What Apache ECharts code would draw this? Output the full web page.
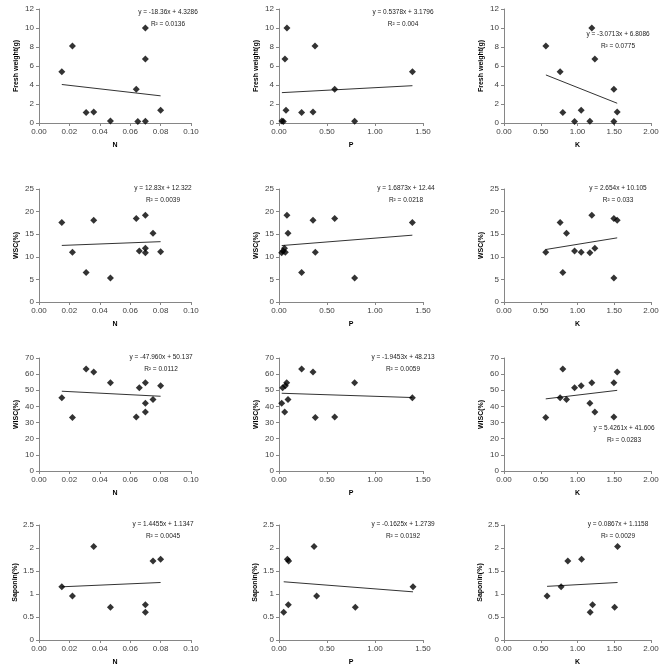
<!DOCTYPE html>
<html><head><meta charset="utf-8">
<script src="https://cdn.jsdelivr.net/npm/echarts@6/dist/echarts.min.js"></script>
<style>html,body{margin:0;padding:0;background:#fff}#c{width:668px;height:672px}</style>
</head><body><div id="c"></div>
<script>
// ---- data ----
const freshN_x = [0.015,0.022,0.031,0.036,0.047,0.064,0.065,0.070,0.070,0.070,0.080];
const freshN_y = [5.4,8.1,1.1,1.15,0.2,3.55,0.15,10.0,6.75,0.18,1.35];
const freshP_x = [0.03,0.045,0.062,0.073,0.083,0.236,0.354,0.375,0.58,0.788,1.39];
const freshP_y = [0.2,0.15,6.75,1.35,10.0,1.1,1.15,8.1,3.55,0.18,5.4];
const freshK_x = [0.57,0.764,0.80,0.96,1.05,1.168,1.195,1.236,1.495,1.495,1.54];
const freshK_y = [8.1,5.4,1.1,0.15,1.35,0.18,10.0,6.75,3.55,0.15,1.15];

const wscN_x = [0.015,0.022,0.031,0.036,0.047,0.064,0.066,0.070,0.070,0.070,0.075,0.080];
const wscN_y = [17.6,11.0,6.5,18.1,5.3,18.5,11.3,19.2,11.9,10.9,15.2,11.1];
const wscP_x = [0.028,0.042,0.057,0.066,0.083,0.094,0.236,0.354,0.378,0.58,0.788,1.389];
const wscP_y = [10.9,11.3,11.9,11.0,19.2,15.2,6.5,18.1,11.0,18.5,5.3,17.6];
const wscK_x = [0.568,0.764,0.80,0.85,0.96,1.05,1.168,1.195,1.236,1.495,1.495,1.54];
const wscK_y = [11.0,17.6,6.5,15.2,11.3,11.0,10.9,19.2,11.9,18.5,5.3,18.1];

const wiscN_x = [0.015,0.022,0.031,0.036,0.047,0.064,0.066,0.070,0.070,0.070,0.075,0.080];
const wiscN_y = [45.3,33.1,63.2,61.3,54.7,33.5,51.5,54.7,42.0,36.6,44.3,52.8];
const wiscP_x = [0.028,0.038,0.059,0.066,0.08,0.094,0.236,0.354,0.378,0.58,0.788,1.389];
const wiscP_y = [42.0,51.5,36.6,52.8,54.7,44.3,63.2,61.3,33.1,33.5,54.7,45.3];
const wiscK_x = [0.568,0.764,0.80,0.85,0.96,1.05,1.168,1.195,1.236,1.495,1.495,1.54];
const wiscK_y = [33.1,45.3,63.2,44.3,51.5,52.8,42.0,54.7,36.6,54.7,33.5,61.3];

const sapN_x = [0.015,0.022,0.036,0.047,0.070,0.070,0.075,0.080];
const sapN_y = [1.16,0.955,2.03,0.71,0.765,0.605,1.72,1.755];
const sapP_x = [0.049,0.087,0.10,0.097,0.365,0.392,0.795,1.396];
const sapP_y = [0.605,1.755,1.72,0.765,2.03,0.955,0.71,1.16];
const sapK_x = [0.586,0.777,0.868,1.055,1.173,1.205,1.505,1.545];
const sapK_y = [0.955,1.16,1.72,1.755,0.605,0.765,0.71,2.03];

// regression (slope, intercept) and labels, row-major
const slopes     = [-18.36, 0.5378, -3.0713, 12.83, 1.6873, 2.654, -47.960, -1.9453, 5.4261, 1.4455, -0.1625, 0.0867];
const intercepts = [4.3286, 3.1796, 6.8086, 12.322, 12.44, 10.105, 50.137, 48.213, 41.606, 1.1347, 1.2739, 1.1158];
const eqLabels = ['y = -18.36x + 4.3286','y = 0.5378x + 3.1796','y = -3.0713x + 6.8086',
  'y = 12.83x + 12.322','y = 1.6873x + 12.44','y = 2.654x + 10.105',
  'y = -47.960x + 50.137','y = -1.9453x + 48.213','y = 5.4261x + 41.606',
  'y = 1.4455x + 1.1347','y = -0.1625x + 1.2739','y = 0.0867x + 1.1158'];
const r2Labels = ['R² = 0.0136','R² = 0.004','R² = 0.0775',
  'R² = 0.0039','R² = 0.0218','R² = 0.033',
  'R² = 0.0112','R² = 0.0059','R² = 0.0283',
  'R² = 0.0045','R² = 0.0192','R² = 0.0029'];

const xNames = ['N','P','K'];
const yNames = ['Fresh weight(g)','WSC(%)','WISC(%)','Saponin(%)'];
const xMax = [0.10, 1.50, 2.00];
const xStep = [0.02, 0.50, 0.50];
const yMax = [12, 25, 70, 2.5];
const yStep = [2, 5, 10, 0.5];

const panels = [
  [freshN_x,freshN_y],[freshP_x,freshP_y],[freshK_x,freshK_y],
  [wscN_x,wscN_y],[wscP_x,wscP_y],[wscK_x,wscK_y],
  [wiscN_x,wiscN_y],[wiscP_x,wiscP_y],[wiscK_x,wiscK_y],
  [sapN_x,sapN_y],[sapP_x,sapP_y],[sapK_x,sapK_y]
];

// ---- layout ----
const colL = [39, 279, 504];
const colR = [191, 423, 651];
const rowT = [9, 189, 358, 525];
const rowB = [123, 302, 471, 640];
const eqPos = [[168,12],[403,12],[618,34],[163,188],[406,188],[618,188],[161,357],[403,357],[624,428],[163,524],[403,524],[618,524]];

const FONT = 'Liberation Sans, Arial, sans-serif';
const grids=[], xAxes=[], yAxes=[], series=[], graphics=[];
for (let r=0;r<4;r++){
  for (let c=0;c<3;c++){
    const i=r*3+c;
    grids.push({left:colL[c], top:rowT[r], width:colR[c]-colL[c], height:rowB[r]-rowT[r], containLabel:false});
    const axisCommon = {
      axisLine:{show:true,onZero:false,lineStyle:{color:'#868686',width:1}},
      axisTick:{show:true,inside:false,length:3,lineStyle:{color:'#868686'}},
      splitLine:{show:false},
      nameTextStyle:{fontFamily:FONT,fontSize:7,fontWeight:'bold',color:'#000'}
    };
    xAxes.push(Object.assign({}, axisCommon, {
      type:'value', gridIndex:i, min:0, max:xMax[c], interval:xStep[c],
      name:xNames[c], nameLocation:'middle', nameGap:19,
      axisLabel:{fontFamily:FONT,fontSize:8,color:'#404040',margin:5,formatter:v=>v.toFixed(2)}
    }));
    yAxes.push(Object.assign({}, axisCommon, {
      type:'value', gridIndex:i, min:0, max:yMax[r], interval:yStep[r],
      name:yNames[r], nameLocation:'middle', nameGap:19, nameRotate:90,
      axisLabel:{fontFamily:FONT,fontSize:8,color:'#404040',margin:5}
    }));
    const xs=panels[i][0], ys=panels[i][1];
    series.push({type:'scatter', xAxisIndex:i, yAxisIndex:i, symbol:'diamond', symbolSize:7,
      itemStyle:{color:'#000'}, data: xs.map((x,k)=>[x,ys[k]]), z:3});
    const x0=Math.min(...xs), x1=Math.max(...xs);
    series.push({type:'line', xAxisIndex:i, yAxisIndex:i, symbol:'none', silent:true,
      lineStyle:{color:'#333',width:1}, data:[[x0,slopes[i]*x0+intercepts[i]],[x1,slopes[i]*x1+intercepts[i]]], z:2});
    graphics.push({type:'text', x:eqPos[i][0], y:eqPos[i][1],
      style:{text:eqLabels[i], fill:'#222', font:'6.5px '+FONT, align:'center', verticalAlign:'middle'}});
    graphics.push({type:'text', x:eqPos[i][0], y:eqPos[i][1]+12,
      style:{text:r2Labels[i], fill:'#222', font:'6.5px '+FONT, align:'center', verticalAlign:'middle'}});
  }
}
const chart = echarts.init(document.getElementById('c'), null, {renderer:'canvas'});
chart.setOption({animation:false, backgroundColor:'#fff', grid:grids, xAxis:xAxes, yAxis:yAxes, series:series, graphic:graphics});
</script></body></html>
